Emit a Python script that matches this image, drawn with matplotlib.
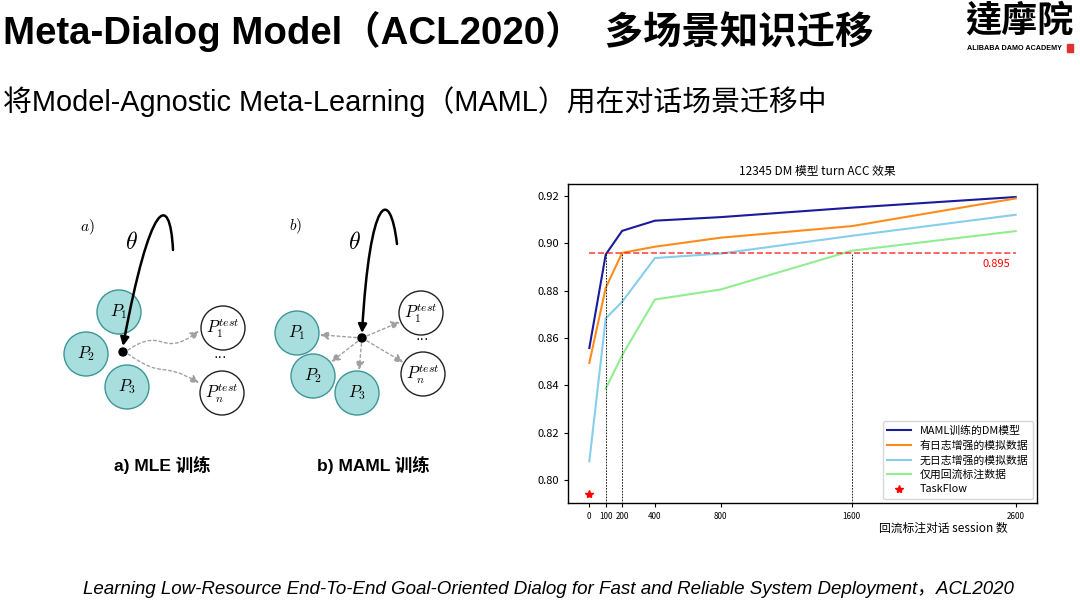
import matplotlib

matplotlib.use("Agg")
import matplotlib.pyplot as plt  # noqa: E402
from matplotlib.patches import Circle, FancyArrowPatch, Rectangle  # noqa: E402
from matplotlib.path import Path  # noqa: E402

plt.rcParams["font.family"] = ["Liberation Sans", "Noto Sans CJK SC", "DejaVu Sans"]
plt.rcParams["mathtext.fontset"] = "cm"

# chart data
sessions = [0, 100, 200, 400, 800, 1600, 2600]
maml_dm = [0.8558, 0.8953, 0.9053, 0.9096, 0.9111, 0.9151, 0.9196]
log_aug = [0.8495, 0.8812, 0.8960, 0.8986, 0.9024, 0.9073, 0.9190]
no_log_aug = [0.8079, 0.8683, 0.8753, 0.8938, 0.8957, 0.9032, 0.9121]
replay_sessions = [100, 200, 400, 800, 1600, 2600]
replay_only = [0.8386, 0.8527, 0.8763, 0.8805, 0.8969, 0.9052]
taskflow_x = [0]
taskflow_y = [0.7942]
threshold = 0.8958
threshold_text = "0.895"
cross_points = [100, 200, 1600]
y_ticks = [0.80, 0.82, 0.84, 0.86, 0.88, 0.90, 0.92]
series_labels = ["MAML训练的DM模型", "有日志增强的模拟数据", "无日志增强的模拟数据",
                 "仅用回流标注数据", "TaskFlow"]

W, H = 1080, 605
fig = plt.figure(figsize=(W / 100, H / 100), dpi=100)

# slide layer in pixel coordinates
bg = fig.add_axes([0, 0, 1, 1])
bg.set_xlim(0, W)
bg.set_ylim(H, 0)
bg.axis("off")

bg.text(3, 32, "Meta-Dialog Model（ACL2020）  多场景知识迁移", fontsize=27.6,
        fontweight="bold", va="center", ha="left")
bg.text(3, 102, "将Model-Agnostic Meta-Learning（MAML）用在对话场景迁移中",
        fontsize=20.8, va="center", ha="left")
bg.text(548, 590, "Learning Low-Resource End-To-End Goal-Oriented Dialog for Fast "
        "and Reliable System Deployment，ACL2020", fontsize=13.5,
        style="italic", va="center", ha="center")

# logo
bg.text(1019, 21, "達摩院", fontsize=26, fontweight="bold", va="center",
        ha="center", family=["Noto Sans CJK TC", "DejaVu Sans"])
bg.text(1014, 48, "ALIBABA DAMO ACADEMY", fontsize=5.2, fontweight="bold",
        va="center", ha="center")
bg.add_patch(Rectangle((1067, 44), 6, 8, color="#e03030"))

# MAML / MLE diagrams
fill_c, edge_c = "#a9dede", "#3d9696"
arrow_c = "#a0a0a0"


def node(x, y, label, filled, size=12):
    if filled:
        bg.add_patch(Circle((x, y), 22, facecolor=fill_c, edgecolor=edge_c, lw=1.0))
    else:
        bg.add_patch(Circle((x, y), 22, facecolor="white", edgecolor="#222222", lw=1.0))
    bg.text(x, y, label, fontsize=size, ha="center", va="center")


def theta_curve(verts):
    path = Path(verts, [Path.MOVETO, Path.CURVE4, Path.CURVE4, Path.CURVE4])
    bg.add_patch(FancyArrowPatch(path=path, arrowstyle="-|>,head_length=5,head_width=2.5",
                                 color="black", lw=1.8))


def dashed_arrow(a, b, r=22):
    dx, dy = b[0] - a[0], b[1] - a[1]
    d = (dx * dx + dy * dy) ** 0.5
    tip = (b[0] - dx / d * (r + 1), b[1] - dy / d * (r + 1))
    bg.add_patch(FancyArrowPatch(a, tip, arrowstyle="-|>,head_length=5,head_width=2.5",
                                 color=arrow_c, lw=1.0, linestyle=(0, (2, 2)),
                                 shrinkA=4, shrinkB=0))


def wavy_arrow(verts):
    path = Path(verts, [Path.MOVETO, Path.CURVE4, Path.CURVE4, Path.CURVE4])
    bg.add_patch(FancyArrowPatch(path=path, arrowstyle="-|>,head_length=5,head_width=2.5",
                                 color=arrow_c, lw=1.0, linestyle=(0, (2, 2))))


# a) MLE
bg.text(87, 227, "$a)$", fontsize=11, ha="center", va="center")
bg.text(131, 243, r"$\theta$", fontsize=17, ha="center", va="center")
node(119, 312, "$P_1$", True)
node(86, 354, "$P_2$", True)
node(127, 387, "$P_3$", True)
node(223, 328, "$P_1^{test}$", False)
node(222, 393, "$P_n^{test}$", False)
bg.text(220, 357, "···", fontsize=10, ha="center", va="center")
theta_curve([(173, 250), (170, 190), (150, 200), (123, 346)])
bg.add_patch(Circle((123, 352), 4, color="black"))
wavy_arrow([(128, 350), (165, 325), (160, 360), (199, 331)])
wavy_arrow([(128, 354), (165, 380), (160, 360), (199, 383)])
bg.text(162, 465, "a) MLE 训练", fontsize=12.5, fontweight="bold",
        ha="center", va="center")

# b) MAML
dot_b = (362, 338)
bg.text(296, 226, "$b)$", fontsize=11, ha="center", va="center")
bg.text(354, 243, r"$\theta$", fontsize=17, ha="center", va="center")
b_nodes = [((297, 333), "$P_1$", True), ((313, 376), "$P_2$", True),
           ((357, 393), "$P_3$", True), ((421, 313), "$P_1^{test}$", False),
           ((423, 374), "$P_n^{test}$", False)]
for (cx, cy), lab, filled in b_nodes:
    node(cx, cy, lab, filled)
    dashed_arrow(dot_b, (cx, cy))
bg.text(422, 339, "···", fontsize=10, ha="center", va="center")
theta_curve([(397, 244), (390, 185), (370, 195), (362, 333)])
bg.add_patch(Circle(dot_b, 4, color="black"))
bg.text(373, 465, "b) MAML 训练", fontsize=12.5, fontweight="bold",
        ha="center", va="center")

# chart
cjk = ["Noto Sans CJK SC", "DejaVu Sans"]
ax = fig.add_axes([568 / W, 1 - 503 / H, 469 / W, 319 / H])
ax.plot(sessions, maml_dm, color="#1a1a9c", lw=1.5, label=series_labels[0])
ax.plot(sessions, log_aug, color="#ff8c1a", lw=1.5, label=series_labels[1])
ax.plot(sessions, no_log_aug, color="#87ceeb", lw=1.5, label=series_labels[2])
ax.plot(replay_sessions, replay_only, color="#90ee90", lw=1.5, label=series_labels[3])
ax.plot(taskflow_x, taskflow_y, "*", color="red", ms=6, lw=0, label=series_labels[4])
ax.plot([sessions[0], sessions[-1]], [threshold, threshold], color="red",
        alpha=0.7, lw=1.2, linestyle="--")
ax.vlines(cross_points, 0.78, threshold, colors="black", lw=0.6,
          linestyles=(0, (2, 1.5)))
ax.text(2483, 0.8915, threshold_text, color="red", fontsize=8, ha="center",
        va="center", family=cjk)
ax.set_xlim(-130, 2730)
ax.set_ylim(0.7903, 0.9251)
ax.set_xticks(sessions)
ax.set_xticklabels([str(s) for s in sessions], fontsize=5.8, family=cjk)
ax.set_yticks(y_ticks)
ax.set_yticklabels([f"{v:.2f}" for v in y_ticks], fontsize=8, family=cjk)
ax.tick_params(length=3, width=0.8)
for s in ax.spines.values():
    s.set_linewidth(1.0)
ax.text(0.531, 1.04, "12345 DM 模型 turn ACC 效果", transform=ax.transAxes,
        fontsize=8.5, ha="center", va="center", family=cjk)
ax.text(0.80, -0.078, "回流标注对话 session 数", transform=ax.transAxes,
        fontsize=8.5, ha="center", va="center", family=cjk)
ax.legend(loc="lower right", prop={"family": cjk, "size": 7.8}, borderaxespad=0.4,
          handlelength=2.2, labelspacing=0.4, framealpha=0.8)

fig.savefig("out.png", dpi=100)
